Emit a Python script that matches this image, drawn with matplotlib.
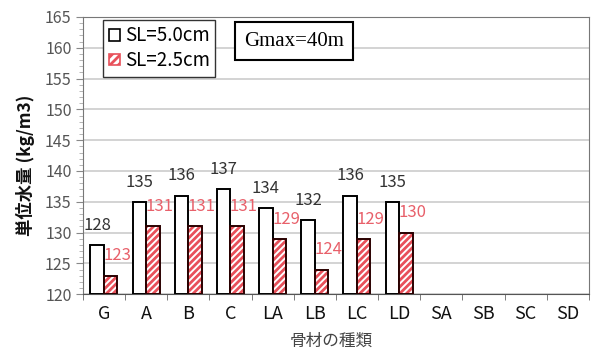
import numpy as np
import matplotlib
matplotlib.use("Agg")
import matplotlib.pyplot as plt
from matplotlib.patches import Patch
from matplotlib.ticker import MultipleLocator

plt.rcParams['font.family'] = ['Noto Sans CJK JP', 'DejaVu Sans']
plt.rcParams['hatch.linewidth'] = 2.0
plt.rcParams['hatch.color'] = '#e8505a'

categories = ["G", "A", "B", "C", "LA", "LB", "LC", "LD", "SA", "SB", "SC", "SD"]
sl50 = [128, 135, 136, 137, 134, 132, 136, 135]
sl25 = [123, 131, 131, 131, 129, 124, 129, 130]
series_names = ["SL=5.0cm", "SL=2.5cm"]
note = "Gmax=40m"

RED = '#e8505a'
LABEL_RED = '#e8606a'
GRAY_TXT = '#333333'

fig = plt.figure(figsize=(5.96, 3.54), dpi=100)
ax = fig.add_axes([0.139, 0.169, 0.849, 0.783])

x = np.arange(len(categories))
w = 0.32
xa = x[:len(sl50)]

base = 120
ax.bar(xa - w / 2, np.array(sl50) - base, w, bottom=base, color='white',
       edgecolor='black', linewidth=1.4, zorder=3)
# hatched bars: stripes first, then the dark outline on top
ax.bar(xa + w / 2, np.array(sl25) - base, w, bottom=base, color='white',
       edgecolor=RED, hatch='/////', linewidth=0, zorder=3)
ax.bar(xa + w / 2, np.array(sl25) - base, w, bottom=base, fill=False,
       edgecolor='#2a0000', linewidth=1.4, zorder=4)

for xi, v in zip(xa, sl50):
    ax.text(xi - w / 2, v + 3.2, str(v), ha='center', va='center',
            fontsize=12, color=GRAY_TXT, zorder=5)
for xi, v in zip(xa, sl25):
    ax.text(xi + w, v + 3.2, str(v), ha='center', va='center',
            fontsize=12, color=LABEL_RED, zorder=5)

ax.set_xlim(-0.5, len(categories) - 0.5)
ax.set_ylim(120, 165)
ax.yaxis.set_major_locator(MultipleLocator(5))
ax.yaxis.set_minor_locator(MultipleLocator(1))
ax.set_xticks(x)
ax.set_xticklabels(categories, fontsize=13, color='#111111')
ax.set_xticks(np.arange(len(categories) + 1) - 0.5, minor=True)
ax.tick_params(axis='x', which='major', length=0, pad=8)
ax.tick_params(axis='x', which='minor', length=4, color='#666666')
ax.tick_params(axis='y', which='major', length=5, color='#888888',
               labelsize=11.5, labelcolor='#555555', pad=3)
ax.tick_params(axis='y', which='minor', length=3, color='#aaaaaa')

ax.grid(axis='y', which='major', color='#cccccc', linewidth=1.2, zorder=0)
ax.set_axisbelow(True)
for side in ['left', 'right', 'top']:
    ax.spines[side].set_color('#777777')
ax.spines['bottom'].set_color('#555555')

handles = [Patch(facecolor='white', edgecolor='black', linewidth=1.2),
           Patch(facecolor='white', edgecolor=RED, hatch='////', linewidth=1.2)]
leg = ax.legend(handles, series_names, loc='upper left',
                bbox_to_anchor=(0.04, 0.99), borderaxespad=0, fontsize=13.5,
                fancybox=False, framealpha=1, edgecolor='#333333',
                handlelength=0.6, handleheight=0.6, handletextpad=0.25,
                borderpad=0.3, labelspacing=0.2)
leg.get_frame().set_linewidth(1.0)

ax.text(0.417, 0.913, note, transform=ax.transAxes, ha='center', va='center',
        fontsize=15, family='Liberation Serif', zorder=6,
        bbox=dict(boxstyle='square,pad=0.45', facecolor='white',
                  edgecolor='black', linewidth=1.5))

fig.text(0.042, 0.534, "単位水量 (kg/m3)", rotation=90, ha='center',
         va='center', fontsize=12.5, weight='bold', color='#111111')
fig.text(0.555, 0.035, "骨材の種類", ha='center', va='center',
         fontsize=12, color='#444444')

fig.savefig("out.png", dpi=100)
